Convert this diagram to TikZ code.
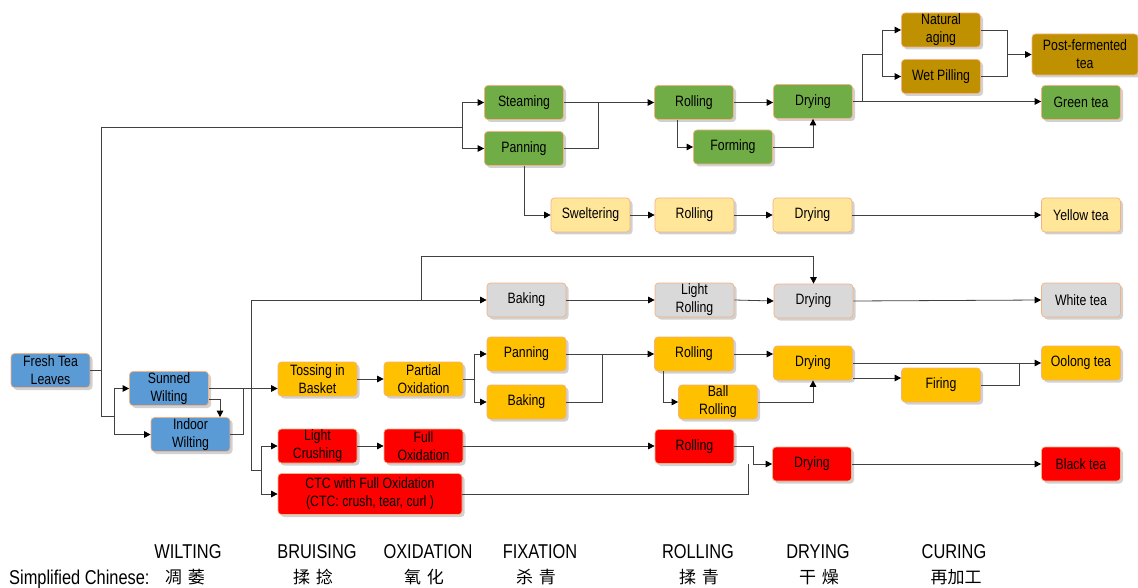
\documentclass[tikz,border=0pt]{standalone}
\usepackage{fontspec}
\setmainfont{Liberation Sans}[FakeStretch=0.82]
\newfontfamily\cjk{Noto Sans CJK SC}
\usetikzlibrary{arrows.meta,shadows,calc}
\definecolor{cblue}{HTML}{5B9BD5}
\definecolor{cgreen}{HTML}{70AD47}
\definecolor{cgold}{HTML}{BF9000}
\definecolor{cyel}{HTML}{FFE699}
\definecolor{cgrey}{HTML}{D9D9D9}
\definecolor{camber}{HTML}{FFC000}
\definecolor{cred}{HTML}{FF0000}
\definecolor{cborder}{HTML}{F4B183}
\definecolor{lgray}{HTML}{404040}
\tikzset{
  procbox/.style={draw=cborder, line width=0.7pt, rounded corners=3.5pt,
    minimum width=79pt, minimum height=34pt, align=center, inner sep=1pt,
    font=\fontsize{15}{18}\selectfont,
    drop shadow={shadow xshift=2.5pt, shadow yshift=-2.5pt, fill=black, opacity=0.18}},
  bl/.style={procbox, fill=cblue},
  gr/.style={procbox, fill=cgreen},
  go/.style={procbox, fill=cgold},
  ye/.style={procbox, fill=cyel},
  gy/.style={procbox, fill=cgrey},
  am/.style={procbox, fill=camber},
  rd/.style={procbox, fill=cred},
  conn/.style={draw=lgray, line width=0.8pt},
  arr/.style={conn, -{Triangle[length=6.5pt,width=6.5pt,color=black]}},
  stage/.style={anchor=base, font=\fontsize{20}{20}\selectfont, inner sep=0pt},
  cn/.style={anchor=base, font=\cjk\fontsize{17}{18}\selectfont, inner sep=0pt},
}
\begin{document}
\begin{tikzpicture}[x=1pt,y=-1pt]
\useasboundingbox (0,0) rectangle (1138,588);
% nodes
\node[bl] (ftl) at (50.5,370.5) {Fresh Tea\\Leaves};
\node[bl] (sun) at (169,388.5) {Sunned\\Wilting};
\node[bl] (ind) at (190.5,434.5) {Indoor\\Wilting};
\node[gr] (stm) at (524,102.5) {Steaming};
\node[gr] (pang) at (524,148.5) {Panning};
\node[gr] (rolg) at (694,102.5) {Rolling};
\node[gr] (frm) at (733,147) {Forming};
\node[gr] (dryg) at (813,101.5) {Drying};
\node[go] (nat) at (941,30) {Natural\\aging};
\node[go] (wet) at (941,76.5) {Wet Pilling};
\node[go, minimum width=106pt, minimum height=41pt] (post) at (1085,54.5) {Post-fermented\\tea};
\node[gr] (gt) at (1081,102.5) {Green tea};
\node[ye] (swl) at (590.5,215) {Sweltering};
\node[ye] (roly) at (694.5,215) {Rolling};
\node[ye] (dryy) at (812.5,215) {Drying};
\node[ye] (yt) at (1081,215) {Yellow tea};
\node[gy] (bakw) at (526.5,300) {Baking};
\node[gy] (lrol) at (694.5,300) {Light\\Rolling};
\node[gy] (dryw) at (813.5,301) {Drying};
\node[gy] (wt) at (1081,300) {White tea};
\node[am] (tos) at (317.5,379) {Tossing in\\Basket};
\node[am] (pox) at (423.5,379) {Partial\\Oxidation};
\node[am] (pano) at (526.5,354) {Panning};
\node[am] (bako) at (526.5,402) {Baking};
\node[am] (rolo) at (694,354) {Rolling};
\node[am] (brol) at (718,402) {Ball\\Rolling};
\node[am] (dryo) at (813,363) {Drying};
\node[am] (fir) at (941,385) {Firing};
\node[am] (oot) at (1081,363) {Oolong tea};
\node[rd] (lcr) at (317.5,446) {Light\\Crushing};
\node[rd] (fox) at (423.5,446) {Full\\Oxidation};
\node[rd, minimum width=184pt, minimum height=41pt] (ctc) at (370,494) {CTC with Full Oxidation\\(CTC: crush, tear, curl )};
\node[rd] (rolr) at (694.5,446.5) {Rolling};
\node[rd] (dryr) at (812,464) {Drying};
\node[rd] (bt) at (1081,464) {Black tea};
% junction coordinates
\coordinate (j1) at (101,127);
\coordinate (j2) at (101,416);
\coordinate (j3) at (462,127);
\coordinate (j4) at (114,416);
\coordinate (k1) at (220,0);
\coordinate (k2) at (243,388.5);
\coordinate (b1) at (251,300);
\coordinate (b2) at (251,470);
\coordinate (b3) at (261,470);
\coordinate (w1) at (421,300);
\coordinate (w2) at (421,256);
\coordinate (g1) at (598,102.5);
\coordinate (g2) at (862,54.5);
\coordinate (g3) at (882,54.5);
\coordinate (g4) at (1007,54.5);
\coordinate (o1) at (474,379);
\coordinate (o2) at (602,354);
\coordinate (o3) at (1019,363);
\coordinate (f0) at ($(dryo.east)+(0,15)$);
\coordinate (r1) at (753,464);
\coordinate (r2) at (748,464);
% fresh leaves and wilting
\draw[conn] (ftl.east) -- (ftl.east -| j1);
\draw[conn] (j1) -- (j2);
\draw[conn] (j1) -- (j3);
\draw[arr] (j3) |- (stm.west);
\draw[arr] (j3) |- (pang.west);
\draw[conn] (j2) -- (j4);
\draw[arr] (j4) |- (sun.west);
\draw[arr] (j4) |- (ind.west);
\draw[arr] ($(sun.east)+(0,10.5)$) -| (k1 |- ind.north);
\draw[arr] (sun.east) -- (sun.east -| tos.west);
\draw[conn] (ind.east) -| (k2);
\draw[conn] (b1) -- (b2);
\draw[arr] (b1) -- (bakw.west);
\draw[conn] (b2) -- (b3);
\draw[arr] (b3) |- (lcr.west);
\draw[arr] (b3) |- (ctc.west);
% white
\draw[arr] (w1) -- (w2) -| (dryw.north);
\draw[arr] (bakw.east) -- (lrol.west);
\draw[arr] (lrol.east) -- (dryw.west);
\draw[arr] (dryw.east) -- (wt.west);
% green
\draw[conn] (stm.east) -- (g1);
\draw[conn] (pang.east) -| (g1);
\draw[arr] (g1) -- (rolg.west);
\draw[arr] (rolg.east) -- (rolg.east -| dryg.west);
\draw[arr] ([xshift=-17pt]rolg.south) |- (frm.west);
\draw[arr] (frm.east) -| (dryg.south);
\draw[arr] (dryg.east) -- (dryg.east -| gt.west);
\draw[conn] (dryg.east) -| (g2) -- (g3);
\draw[arr] (g3) |- (nat.west);
\draw[arr] (g3) |- (wet.west);
\draw[conn] (nat.east) -| (g4);
\draw[conn] (wet.east) -| (g4);
\draw[arr] (g4) -- (post.west);
% yellow
\draw[arr] (pang.south) |- (swl.west);
\draw[arr] (swl.east) -- (roly.west);
\draw[arr] (roly.east) -- (dryy.west);
\draw[arr] (dryy.east) -- (yt.west);
% oolong
\draw[arr] (tos.east) -- (pox.west);
\draw[conn] (pox.east) -- (o1);
\draw[arr] (o1) |- (pano.west);
\draw[arr] (o1) |- (bako.west);
\draw[conn] (pano.east) -- (o2);
\draw[conn] (bako.east) -| (o2);
\draw[arr] (o2) -- (rolo.west);
\draw[arr] (rolo.east) -- (rolo.east -| dryo.west);
\draw[arr] ([xshift=-31pt]rolo.south) |- (brol.west);
\draw[arr] (brol.east) -| (dryo.south);
\draw[arr] (dryo.east) -- (oot.west);
\draw[arr] (f0) -- (f0 -| fir.west);
\draw[conn] (fir.east) -| (o3);
% black
\draw[arr] (lcr.east) -- (fox.west);
\draw[arr] (fox.east) -- (fox.east -| rolr.west);
\draw[conn] (rolr.east) -| (r1);
\draw[arr] (r1) -- (dryr.west);
\draw[conn] (ctc.east) -| (r2);
\draw[arr] (dryr.east) -- (bt.west);
% stage labels
\node[stage] (s1) at (188,558) {WILTING};
\node[stage] (s2) at (317,558) {BRUISING};
\node[stage] (s3) at (428,558) {OXIDATION};
\node[stage] (s4) at (540,558) {FIXATION};
\node[stage] (s5) at (698,558) {ROLLING};
\node[stage] (s6) at (818,558) {DRYING};
\node[stage] (s7) at (954,558) {CURING};
\node[stage, anchor=base west] (sc) at (9,584) {Simplified Chinese:};
\node[cn] (c1) at (185,583) {凋\,\,萎};
\node[cn] (c2) at (313,583) {揉\,\,捻};
\node[cn] (c3) at (424,583) {氧\,\,化};
\node[cn] (c4) at (536,583) {杀\,\,青};
\node[cn] (c5) at (699,583) {揉\,\,青};
\node[cn] (c6) at (819,583) {干\,\,燥};
\node[cn] (c7) at (956,583) {再加工};
\end{tikzpicture}
\end{document}
